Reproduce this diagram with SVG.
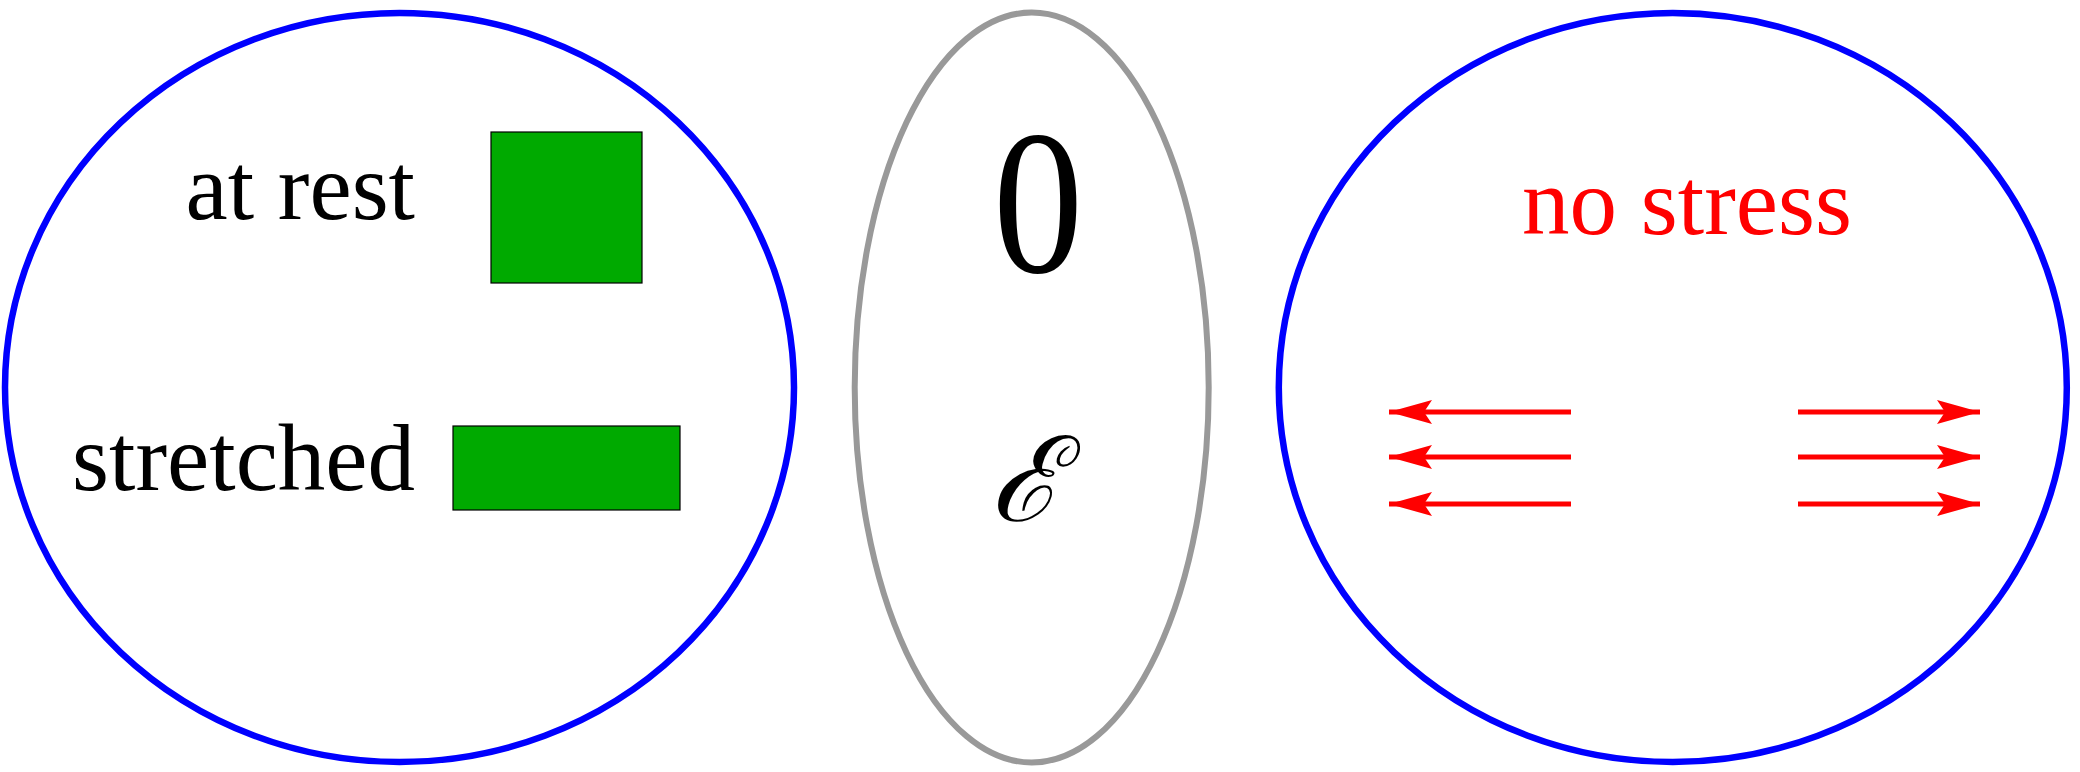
<svg xmlns="http://www.w3.org/2000/svg" width="2080" height="772" viewBox="0 0 2080 772">
<style>
.frame{fill:none;stroke:#0000ff;stroke-width:6.5}
.mid{fill:none;stroke:#999999;stroke-width:6}
.blk{fill:#00aa00;stroke:#000;stroke-width:1.2}
.lbl{font-family:"Liberation Serif","Times New Roman",serif;font-size:95px}
.sym{font-family:"Liberation Serif","Times New Roman",serif;fill:#000}
.arr{stroke:#ff0000;stroke-width:5;fill:none}
</style>
<defs>
<marker id="ah" markerUnits="userSpaceOnUse" markerWidth="46" markerHeight="28" refX="43" refY="12" orient="auto">
<path d="M43,12 L0,0 L8,12 L0,24 Z" fill="#ff0000"/>
</marker>
</defs>
<rect width="2080" height="772" fill="#ffffff"/>
<g id="node-left">
<ellipse class="frame" cx="399.5" cy="387.5" rx="394.5" ry="374.5"/>
<text class="lbl" x="415" y="219" text-anchor="end">at rest</text>
<rect class="blk" x="491" y="132" width="151" height="151"/>
<text class="lbl" x="415" y="490" text-anchor="end">stretched</text>
<rect class="blk" x="453" y="426" width="227" height="84"/>
</g>
<g id="node-middle">
<ellipse class="mid" cx="1031.7" cy="387.5" rx="177" ry="375"/>
<text class="sym" transform="translate(1038 272) scale(0.88 1)" x="0" y="0" font-size="205" text-anchor="middle">0</text>
<text class="sym" x="1025" y="521" font-size="118" text-anchor="middle" font-family="DejaVu Serif, serif" font-style="italic">ℰ</text>
</g>
<g id="node-right">
<ellipse class="frame" cx="1672.8" cy="387.5" rx="394" ry="374.5"/>
<text class="lbl" x="1687" y="234" text-anchor="middle" fill="#ff0000">no stress</text>
</g>
<g id="connectors">
<line class="arr" x1="1571" y1="412" x2="1389" y2="412" marker-end="url(#ah)"/>
<line class="arr" x1="1571" y1="457" x2="1389" y2="457" marker-end="url(#ah)"/>
<line class="arr" x1="1571" y1="504" x2="1389" y2="504" marker-end="url(#ah)"/>
<line class="arr" x1="1798" y1="412" x2="1980" y2="412" marker-end="url(#ah)"/>
<line class="arr" x1="1798" y1="457" x2="1980" y2="457" marker-end="url(#ah)"/>
<line class="arr" x1="1798" y1="504" x2="1980" y2="504" marker-end="url(#ah)"/>
</g>
</svg>
